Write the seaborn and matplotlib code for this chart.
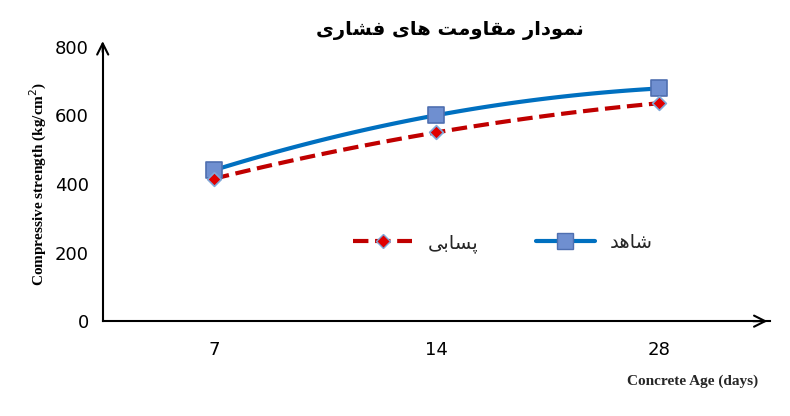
import numpy as np
import matplotlib
matplotlib.use("Agg")
import matplotlib.pyplot as plt
import seaborn as sns
from matplotlib.lines import Line2D

def vis(codes):
    # Arabic presentation forms in visual (left-to-right) order
    return "".join(reversed(codes))

title_logical = ("\uFEE7\uFEE4\uFEEE\uFEA9\uFE8D\uFEAD" + " " +
                 "\uFEE3\uFED8\uFE8E\uFEED\uFEE3\uFE96" + " " +
                 "\uFEEB\uFE8E\uFBFC" + " " +
                 "\uFED3\uFEB8\uFE8E\uFEAD\uFBFC")
pasabi = vis("\uFB58\uFEB4\uFE8E\uFE91\uFBFD")
shahed = vis("\uFEB7\uFE8E\uFEEB\uFEAA")
title = vis(title_logical)

ages = ["7", "14", "28"]
shahed_vals = [440, 600, 678]
pasabi_vals = [415, 550, 635]

sns.set_style("white")
plt.rcParams['font.family'] = ['DejaVu Sans']
fig = plt.figure(figsize=(7.9, 4.16), dpi=100)
ax = fig.add_axes([0.13, 0.228, 0.845, 0.66])
x = np.arange(len(ages))
xs = np.linspace(0, 2, 100)

for vals, col, ls, mk, ms, fc, mec in [
        (shahed_vals, "#0070C0", "-", "s", 11, "#6F8FD0", "#4F6FB0"),
        (pasabi_vals, "#C00000", "--", "D", 7, "#E00000", "#7FA7D8")]:
    c = np.polyfit(x, vals, 2)
    ax.plot(xs, np.polyval(c, xs), color=col, ls=ls, lw=3, zorder=2)
    sns.scatterplot(x=x, y=vals, marker=mk, s=ms**2, color=fc,
                    edgecolor=mec, linewidth=1.2, ax=ax, zorder=4)

h = [Line2D([], [], color="#C00000", ls="--", lw=3, marker="D", ms=7,
            mfc="#E00000", mec="#7FA7D8"),
     Line2D([], [], color="#0070C0", lw=3, marker="s", ms=11,
            mfc="#6F8FD0", mec="#4F6FB0")]
ax.legend(h, [pasabi, shahed], ncol=2, frameon=False, loc="center",
          bbox_to_anchor=(0.6, 0.285), fontsize=14, columnspacing=3,
          handlelength=3)

ax.set_xlim(-0.5, 2.5)
ax.set_ylim(0, 800)
ax.set_xticks(x)
ax.set_xticklabels(ages, fontsize=13)
ax.set_yticks([0, 200, 400, 600, 800])
ax.tick_params(axis="both", labelsize=13, length=0, pad=14, labelcolor="black")
ax.tick_params(axis="y", pad=10)
for s in ["top", "right"]:
    ax.spines[s].set_visible(False)
for s in ["left", "bottom"]:
    ax.spines[s].set_color("black")
    ax.spines[s].set_linewidth(1.5)
ax.annotate("", xy=(1.0, 0), xycoords="axes fraction", xytext=(0.97, 0),
            arrowprops=dict(arrowstyle="->", lw=1.5, color="black",
                            mutation_scale=20))
ax.annotate("", xy=(0, 1.03), xycoords="axes fraction", xytext=(0, 0.97),
            arrowprops=dict(arrowstyle="->", lw=1.5, color="black",
                            mutation_scale=20), annotation_clip=False)
fig.text(0.57, 0.915, title, fontsize=14, fontweight="bold", ha="center",
         color="black")
ax.set_ylabel("Compressive strength (kg/cm$^2$)", family="Liberation Serif",
              fontweight="bold", fontsize=11, color="black")
fig.text(0.96, 0.075, "Concrete Age (days)", family="Liberation Serif",
         fontweight="bold", fontsize=11, ha="right")
fig.savefig("out.png", dpi=100)
